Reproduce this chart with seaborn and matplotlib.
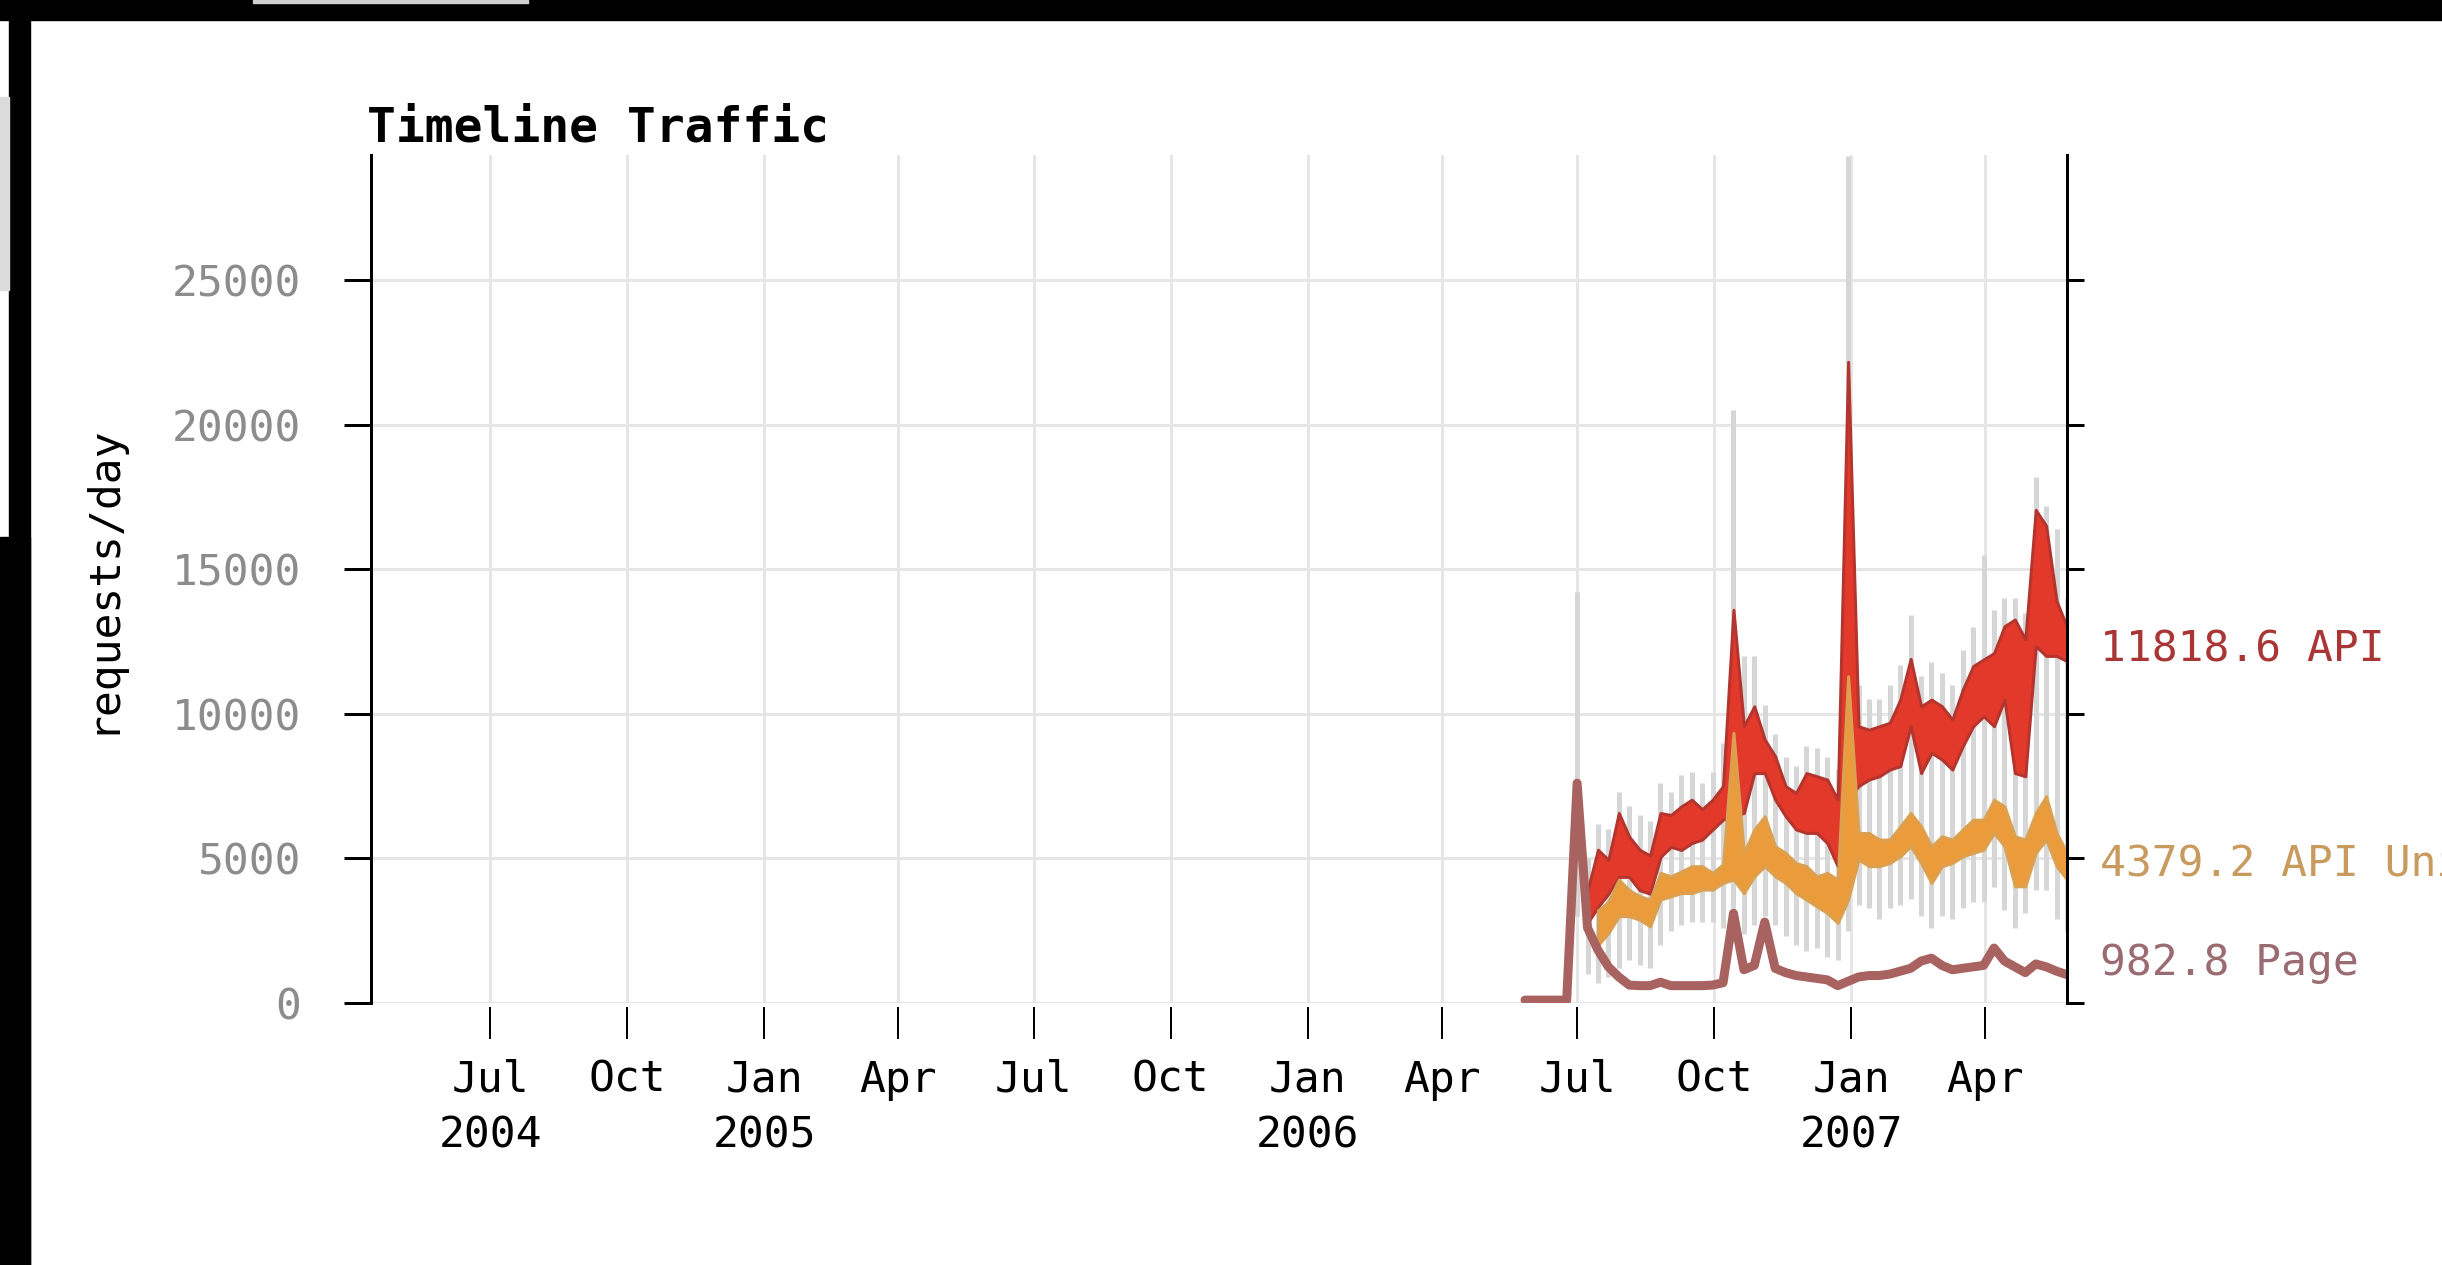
import numpy as np
import pandas as pd
import matplotlib
matplotlib.use("Agg")
import matplotlib.pyplot as plt
from matplotlib.patches import Rectangle
from matplotlib.transforms import blended_transform_factory
import seaborn as sns

nan = np.nan

# weekly samples of the API series, 2006-07-01 .. 2007-05-26
api_weeks = pd.date_range("2006-07-01", periods=48, freq="7D")
api_hi = [nan, 3900, 5300, 4950, 6570, 5750, 5300, 5100, 6570, 6500, 6800, 7030,
          6700, 7030, 7500, 13600, 9570, 10260, 9110, 8530, 7500, 7260, 7950, 7840,
          7725, 7030, 22170, 9570, 9450, 9570, 9690, 10490, 11900, 10260, 10490, 10260,
          9800, 10840, 11650, 11880, 12100, 13030, 13260, 12570, 17050, 16500, 13900, 13000]
api_lo = [nan, 2770, 3320, 3780, 4360, 4360, 3900, 3780, 5050, 5400, 5290, 5530,
          5650, 6000, 6340, 6460, 6570, 7950, 7950, 7030, 6460, 6000, 5880, 5880,
          5530, 4730, 7030, 7500, 7725, 7840, 8070, 8190, 9570, 7950, 8650, 8420,
          8070, 8880, 9570, 9915, 9570, 10490, 7950, 7840, 12340, 12000, 12000, 11820]
uniq_hi = [nan, nan, 3200, 3500, 4270, 3900, 3700, 3575, 4500, 4380, 4550, 4730,
           4730, 4500, 4800, 9340, 5190, 6000, 6460, 5420, 5190, 4840, 4730, 4380,
           4500, 4270, 11300, 5880, 5880, 5650, 5650, 6110, 6570, 6110, 5420, 5765,
           5650, 6000, 6340, 6340, 7030, 6800, 5765, 5650, 6570, 7150, 5880, 5190]
uniq_lo = [nan, nan, 2000, 2420, 3000, 3000, 2880, 2650, 3575, 3690, 3800, 3800,
           3920, 3920, 4150, 4270, 3800, 4380, 4730, 4380, 4150, 3800, 3575, 3340,
           3110, 2770, 3575, 4960, 4730, 4730, 4840, 5070, 5420, 4840, 4150, 4730,
           4840, 5070, 5190, 5300, 5880, 5420, 4035, 4035, 5190, 5650, 4730, 4270]
# daily min / max range (light grey strokes)
range_hi = [14200, 5000, 6200, 6000, 7300, 6800, 6500, 6300, 7600, 7300, 7900, 8000,
            7600, 8000, 9000, 20500, 12000, 12000, 10300, 9300, 8500, 8200, 8900, 8800,
            8500, 8100, 29300, 11000, 10500, 10500, 11000, 11700, 13400, 11300, 11800, 11400,
            11000, 12200, 13000, 15500, 13600, 14000, 14000, 13500, 18200, 17200, 16400, 14000]
range_lo = [3000, 1000, 700, 900, 1200, 1500, 1300, 1200, 2000, 2500, 2700, 2800,
            2800, 2800, 2600, 2400, 2400, 2700, 3000, 2700, 2300, 2000, 1800, 1900,
            1600, 1500, 2500, 3400, 3300, 2900, 3300, 3400, 3600, 3000, 2600, 3000,
            2900, 3300, 3500, 3500, 4000, 3200, 2600, 3100, 3900, 3900, 2900, 2500]

# weekly page requests, 2006-05-27 .. 2007-05-26
page_weeks = pd.date_range("2006-05-27", periods=53, freq="7D")
page = [100, 100, 100, 100, 100, 7600, 2600, 1830, 1250, 900, 620, 600,
        600, 720, 600, 600, 600, 600, 620, 700, 3100, 1150, 1300, 2800,
        1200, 1050, 950, 900, 850, 800, 600, 750, 900, 950, 950, 1000,
        1100, 1200, 1450, 1550, 1300, 1150, 1200, 1250, 1300, 1900, 1450, 1250,
        1050, 1350, 1250, 1100, 980]

last_values = [11818.6, 4379.2, 982.8]
series_names = ["API", "API Unique", "Page"]
label_colors = ["#a93535", "#c89a5e", "#9b6b72"]

tick_dates = ["2004-07-01", "2004-10-01", "2005-01-01", "2005-04-01", "2005-07-01",
              "2005-10-01", "2006-01-01", "2006-04-01", "2006-07-01", "2006-10-01",
              "2007-01-01", "2007-04-01"]
tick_labels = ["Jul\n2004", "Oct", "Jan\n2005", "Apr", "Jul", "Oct", "Jan\n2006",
               "Apr", "Jul", "Oct", "Jan\n2007", "Apr"]
y_ticks = [0, 5000, 10000, 15000, 20000, 25000]

sns.set_theme(style="white")
plt.rcParams["font.family"] = ["DejaVu Sans Mono"]

W, H, DPI = 2442, 1265, 100
fs = 31


def px(v):
    return v * 72 / DPI


fig = plt.figure(figsize=(W / DPI, H / DPI), dpi=DPI)
fig.patch.set_facecolor("white")
ax = fig.add_axes([371 / W, 1 - 1003 / H, (2067 - 371) / W, (1003 - 155) / H])
ax.set_facecolor("white")

# data
ax.vlines(api_weeks, range_lo, range_hi, color="#d6d6d6", lw=px(5), zorder=1.5)
ax.fill_between(api_weeks, api_lo, api_hi, facecolor="#e3392a", edgecolor="#b3352e",
                lw=px(3), zorder=2)
ax.fill_between(api_weeks, uniq_lo, uniq_hi, facecolor="#ec9b3b", edgecolor="#dba050",
                lw=px(3), zorder=2.1)
sns.lineplot(x=page_weeks, y=page, color="#a8625f", linewidth=px(9), ax=ax, zorder=2.2)

ax.set_xlim(pd.Timestamp("2004-04-12"), pd.Timestamp("2007-05-26"))
ax.set_ylim(0, 29320)
ax.set_yticks(y_ticks)
ax.set_yticklabels([str(v) for v in y_ticks])
ax.set_xticks(pd.to_datetime(tick_dates))
ax.set_xticklabels(tick_labels)
ax.set_xlabel("")

ax.grid(True, color="#e6e6e6", lw=px(3))
ax.set_axisbelow(True)

for s in ["top", "right"]:
    ax.spines[s].set_visible(False)
ax.spines["bottom"].set_position(("outward", px(4)))
ax.spines["bottom"].set_visible(False)
ax.spines["left"].set_color("black")
ax.spines["left"].set_linewidth(px(3))

ax.tick_params(axis="y", left=True, length=px(27), width=px(3), color="black",
               pad=px(43), labelsize=fs, labelcolor="#8c8c8c")
ax.tick_params(axis="x", bottom=True, length=px(32), width=px(2), color="black",
               pad=px(20), labelsize=fs, labelcolor="black")
for lbl in ax.get_xticklabels():
    lbl.set_linespacing(1.42)

ax.set_ylabel("requests/day", fontsize=fs, color="black")
ax.yaxis.label.set_va("center")
ax.yaxis.set_label_coords(-0.159, 0.5)

# right axis line with short ticks
twin = ax.twinx()
twin.set_ylim(ax.get_ylim())
twin.set_yticks(y_ticks)
twin.set_yticklabels([])
twin.grid(False)
for s in ["top", "left", "bottom"]:
    twin.spines[s].set_visible(False)
twin.spines["right"].set_color("black")
twin.spines["right"].set_linewidth(px(3))
twin.tick_params(axis="y", right=True, length=px(17), width=px(3), color="black")

# end labels (the reference screenshot cuts the middle one at the right edge)
trans = blended_transform_factory(ax.transAxes, ax.transData)
for val, name, col in zip(last_values, series_names, label_colors):
    ax.text(1 + 33 / 1696, val, f"{val} {name}", transform=trans, color=col,
            fontsize=fs, ha="left", va="baseline", clip_on=False)

fig.text(367 / W, 1 - 142 / H, "Timeline Traffic", fontsize=34.6, fontweight="bold",
         color="black", ha="left", va="baseline")

# screenshot frame
fig.patches.extend([
    Rectangle((0, 1 - 20 / H), 1, 20 / H, transform=fig.transFigure, color="black"),
    Rectangle((253 / W, 1 - 3 / H), 275 / W, 3 / H, transform=fig.transFigure, color="#d0d0d0"),
    Rectangle((9 / W, 0), 21 / W, 1 - 20 / H, transform=fig.transFigure, color="black"),
    Rectangle((0, 0), 30 / W, 1 - 537 / H, transform=fig.transFigure, color="black"),
    Rectangle((0, 1 - 290 / H), 9 / W, (290 - 97) / H, transform=fig.transFigure, color="#dcdcdc"),
])

fig.savefig("out.png", dpi=DPI)
